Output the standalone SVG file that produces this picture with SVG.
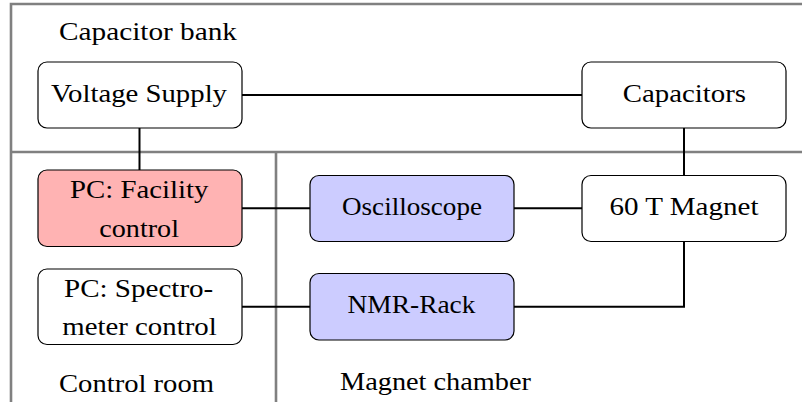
<svg xmlns="http://www.w3.org/2000/svg" width="802" height="402" viewBox="0 0 802 402">
  <style>
    .frame { stroke: #808080; stroke-width: 2.6; fill: none; }
    .wire { stroke: #000; stroke-width: 2; fill: none; }
    .box { stroke: #000; stroke-width: 1.2; }
    .plain { fill: #fff; }
    .pc { fill: #ffb3b3; }
    .instr { fill: #ccccff; }
  </style>

  <rect width="802" height="402" fill="#fff"/>

  <g font-family="Liberation Serif, serif" font-size="26" fill="#000">
  <!-- room boundaries and room names -->
  <g id="rooms">
    <path class="frame" d="M11,402 V4 H802"/>
    <path class="frame" d="M11,152 H802"/>
    <path class="frame" d="M276,152 V402"/>
    <text x="59" y="40" textLength="178" lengthAdjust="spacingAndGlyphs">Capacitor bank</text>
    <text x="59" y="391.5" textLength="155" lengthAdjust="spacingAndGlyphs">Control room</text>
    <text x="340" y="390" textLength="191" lengthAdjust="spacingAndGlyphs">Magnet chamber</text>
  </g>

  <!-- connections -->
  <g id="connectors">
    <path class="wire" d="M242,95 H582"/>
    <path class="wire" d="M139.5,128 V170"/>
    <path class="wire" d="M684,128 V175.5"/>
    <path class="wire" d="M242,208.3 H310"/>
    <path class="wire" d="M514,208.3 H582"/>
    <path class="wire" d="M242,306.7 H310"/>
    <path class="wire" d="M684,241.5 V306.7 H514"/>
  </g>

  <g id="voltage-supply">
    <rect class="box plain" x="38" y="62" width="204" height="66" rx="9"/>
    <text x="51" y="101.7" textLength="176" lengthAdjust="spacingAndGlyphs">Voltage Supply</text>
  </g>

  <g id="capacitors">
    <rect class="box plain" x="582" y="62" width="204" height="66" rx="9"/>
    <text x="622.7" y="101.7" textLength="123.3" lengthAdjust="spacingAndGlyphs">Capacitors</text>
  </g>

  <g id="pc-facility">
    <rect class="box pc" x="38" y="170" width="204" height="76.5" rx="9"/>
    <text x="70" y="198.3" textLength="138.3" lengthAdjust="spacingAndGlyphs">PC: Facility</text>
    <text x="99.3" y="236.7" textLength="79.7" lengthAdjust="spacingAndGlyphs">control</text>
  </g>

  <g id="pc-spectrometer">
    <rect class="box plain" x="38" y="269" width="204" height="75.5" rx="9"/>
    <text x="64" y="296.7" textLength="149.3" lengthAdjust="spacingAndGlyphs">PC: Spectro-</text>
    <text x="62.3" y="335" textLength="154.4" lengthAdjust="spacingAndGlyphs">meter control</text>
  </g>

  <g id="oscilloscope">
    <rect class="box instr" x="310" y="175.5" width="204" height="66" rx="9"/>
    <text x="342" y="215" textLength="140" lengthAdjust="spacingAndGlyphs">Oscilloscope</text>
  </g>

  <g id="nmr-rack">
    <rect class="box instr" x="310" y="273.5" width="204" height="66.5" rx="9"/>
    <text x="347.5" y="313.4" textLength="128" lengthAdjust="spacingAndGlyphs">NMR-Rack</text>
  </g>

  <g id="magnet">
    <rect class="box plain" x="582" y="175.5" width="204" height="66" rx="9"/>
    <text x="609.5" y="215" textLength="149" lengthAdjust="spacingAndGlyphs">60 T Magnet</text>
  </g>
  </g>
</svg>
